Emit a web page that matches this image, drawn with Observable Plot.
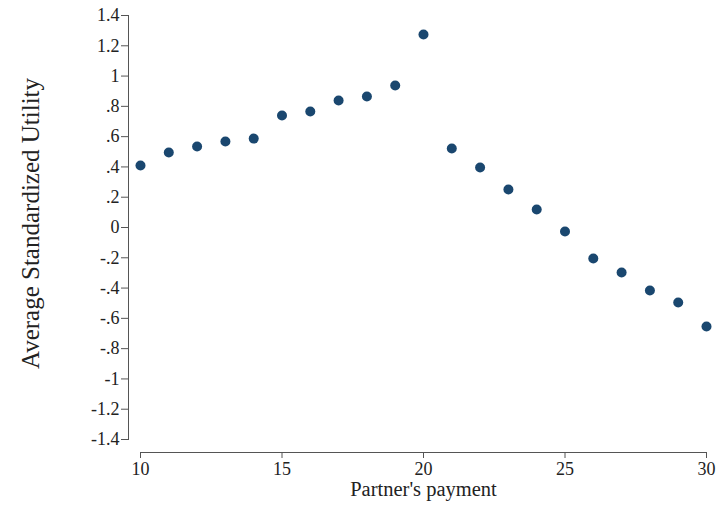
<!DOCTYPE html>
<html>
<head>
<meta charset="utf-8">
<script src="https://cdn.jsdelivr.net/npm/d3@7"></script>
<script src="https://cdn.jsdelivr.net/npm/@observablehq/plot@0.6"></script>
<style>
  body { margin: 0; background: #fff; }
  svg text { font-family: "Liberation Serif", "DejaVu Serif", serif; }
</style>
</head>
<body>
<div id="chart"></div>
<script>
const payments = [10,11,12,13,14,15,16,17,18,19,20,21,22,23,24,25,26,27,28,29,30];
const utility = [0.41,0.495,0.535,0.568,0.587,0.74,0.766,0.839,0.865,0.938,1.275,0.522,0.396,0.251,0.119,-0.026,-0.205,-0.297,-0.416,-0.495,-0.654];
const xTicks = [10,15,20,25,30];
const yTicks = [-1.4,-1.2,-1,-0.8,-0.6,-0.4,-0.2,0,0.2,0.4,0.6,0.8,1,1.2,1.4];
const xLabel = "Partner's payment";
const yLabel = "Average Standardized Utility";

const data = payments.map((p, i) => ({x: p, y: utility[i]}));
const fmt = v => {
  const r = Math.round(v * 10) / 10;
  if (r === 0) return "0";
  let s = String(Math.abs(r)).replace(/^0\./, ".");
  return (r < 0 ? "-" : "") + s;
};

const chart = Plot.plot({
  width: 717,
  height: 510,
  marginLeft: 140,
  marginRight: 11,
  marginTop: 15,
  marginBottom: 71,
  style: {fontFamily: "Liberation Serif", fontSize: "18px", color: "#222", background: "#fff"},
  x: {domain: [10, 30]},
  y: {domain: [-1.4, 1.4]},
  marks: [
    Plot.frame({anchor: "left", dx: -12, stroke: "#555"}),
    Plot.frame({anchor: "bottom", dy: 13, stroke: "#555"}),
    Plot.axisY({ticks: yTicks, tickFormat: fmt, tickSize: 7, dx: -12, tickPadding: 2, label: null, stroke: "#555", fill: "#222", fontSize: 18}),
    Plot.axisX({ticks: xTicks, tickSize: 6, dy: 13, tickPadding: 4, label: null, stroke: "#555", fill: "#222", fontSize: 18}),
    Plot.text([xLabel], {frameAnchor: "bottom", dy: 56, fontSize: 20.5, fill: "#222"}),
    Plot.text([yLabel], {frameAnchor: "left", dx: -110, dy: -4, rotate: -90, textAnchor: "middle", fontSize: 25, fill: "#222"}),
    Plot.dot(data, {x: "x", y: "y", r: 5, fill: "#1a476f", stroke: null})
  ]
});
document.getElementById("chart").appendChild(chart);
</script>
</body>
</html>
